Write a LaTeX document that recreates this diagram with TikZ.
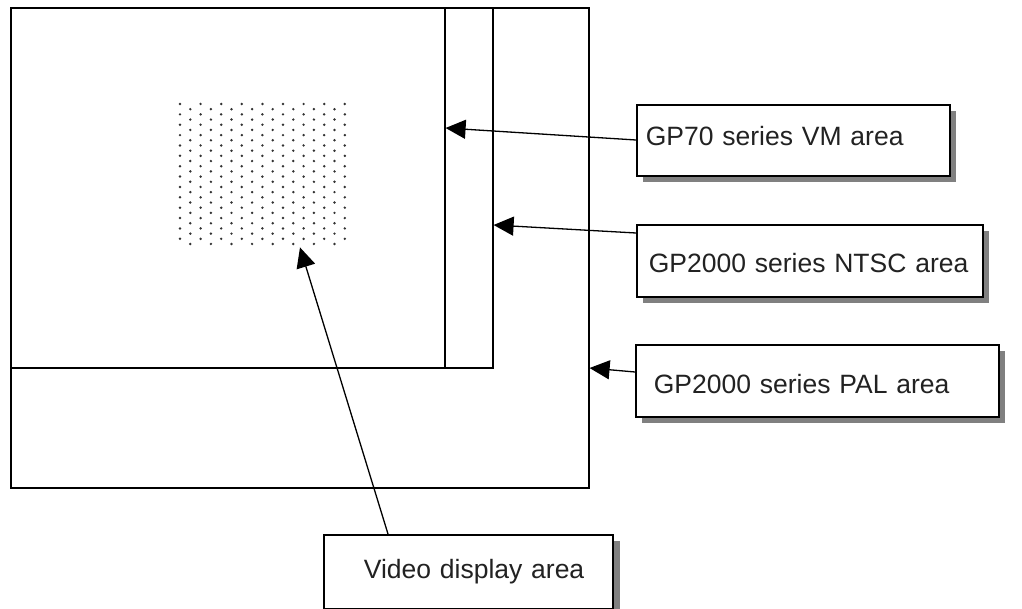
\documentclass[tikz,border=0pt]{standalone}
\usepackage{fontspec}
\setmainfont{Liberation Sans}
\usetikzlibrary{arrows.meta,shadows}
\definecolor{shadowgray}{RGB}{128,128,128}
\definecolor{txt}{RGB}{34,34,34}
\definecolor{dotc}{RGB}{50,50,50}
\begin{document}
\begin{tikzpicture}[x=1pt,y=-1pt,
  area/.style={draw=black,line width=1.6pt,anchor=north west,inner sep=0pt},
  labelbox/.style={draw=black,line width=1.6pt,fill=white,anchor=north west,
    inner ysep=0pt,align=left,text=txt,
    font=\fontsize{26.5}{30}\selectfont,
    drop shadow={shadow xshift=6pt,shadow yshift=-6pt,fill=shadowgray,opacity=1}},
  arr/.style={line width=1.3pt,-{Triangle[length=20pt,width=19pt]}}]
\useasboundingbox (0,0) rectangle (1022,609);

% screen areas
\node[area,minimum width=578pt,minimum height=480pt] (palarea) at (10,7) {};
\node[area,minimum width=482pt,minimum height=360pt] (ntscarea) at (10,7) {};
\node[area,minimum width=434pt,minimum height=360pt] (vmarea) at (10,7) {};

% video display area (dotted)
\node[anchor=north west,minimum width=172pt,minimum height=146pt,inner sep=0pt] (videoarea) at (177,101) {};
\foreach \r in {0,...,27}{
  \pgfmathsetmacro{\yy}{104+\r*5.185}
  \ifodd\r
    \foreach \k in {0,...,7}{\fill[dotc] (190.3+\k*20.6,\yy) circle (1.35pt);}
  \else
    \foreach \k in {0,...,8}{\fill[dotc] (180+\k*20.6,\yy) circle (1.35pt);}
  \fi
}

% labels
\node[labelbox,inner xsep=9pt,text width=295pt,text height=41pt,text depth=30pt] (vmlabel) at (636,104) {\mbox{GP70 series VM area}};
\node[labelbox,inner xsep=12pt,text width=322pt,text height=48pt,text depth=24pt] (ntsclabel) at (636,224) {\mbox{GP2000 series NTSC area}};
\node[labelbox,inner xsep=18pt,text width=327pt,text height=49pt,text depth=23pt] (pallabel) at (635,344) {\mbox{GP2000 series PAL area}};
\node[labelbox,inner xsep=40pt,text width=209pt,text height=44pt,text depth=30pt,
  drop shadow={shadow xshift=7pt,shadow yshift=-6pt,fill=shadowgray,opacity=1}] (videolabel) at (323,534) {\mbox{Video display area}};

% arrows
\draw[arr] ([yshift=-36pt]vmlabel.north west) -- ([yshift=-121pt]vmarea.north east);
\draw[arr] ([yshift=-9pt]ntsclabel.north west) -- ([yshift=-218pt]ntscarea.north east);
\draw[arr] ([yshift=-28pt]pallabel.north west) -- ([yshift=-361pt]palarea.north east);
\draw[arr] ([xshift=65pt]videolabel.north west) -- ([xshift=123pt]videoarea.south west);
\end{tikzpicture}
\end{document}
